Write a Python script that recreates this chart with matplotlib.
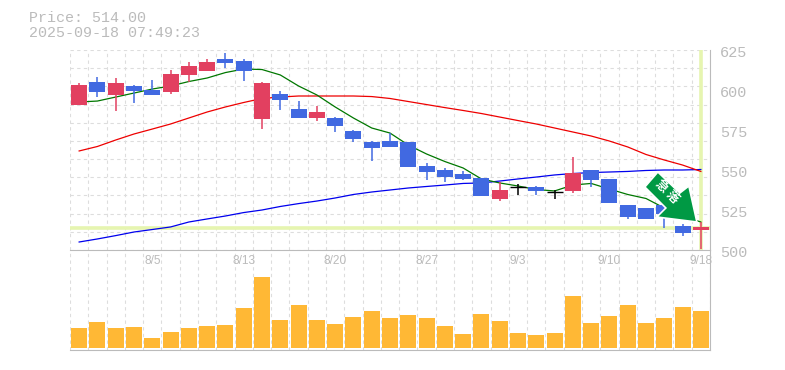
import numpy as np
import matplotlib
matplotlib.use("Agg")
import matplotlib.pyplot as plt
from matplotlib.patches import Polygon
from matplotlib.transforms import Affine2D

price_label = "Price: 514.00"
time_label = "2025-09-18 07:49:23"
last_price = 514.0

opens = [590.6, 605, 596.9, 602.5, 600, 598.75, 609.4, 611.9, 619.4, 618.1, 581.9, 597.5,
         588.1, 582.5, 582.5, 574.4, 567.5, 568.1, 567.5, 552.5, 550, 547.5, 545, 531.9,
         539.2, 539.4, 536.25, 536.9, 550, 544.4, 528.1, 526.25, 528, 515, 512.5]
closes = [603.1, 598.75, 604.4, 599.4, 596.9, 610, 615, 617.5, 616.9, 611.9, 604.4, 593.75,
          582.5, 586.25, 577.5, 569.4, 563.75, 564.4, 551.9, 548.75, 545.6, 544.4, 533.75, 537.5,
          539.2, 536.9, 536.25, 548.1, 543.75, 529.4, 520.6, 519.4, 522.5, 510.6, 514.4]
highs = [604.4, 608.1, 607.5, 603.1, 606.25, 612.5, 617.5, 619.4, 623.1, 619.4, 605, 599.4,
         593.1, 590, 583.1, 575, 568.1, 573.1, 567.5, 554.4, 551.25, 549.4, 545, 542.5,
         541.25, 540, 537.5, 558.1, 550, 544.4, 528.1, 526.25, 528, 516.25, 517.5]
lows = [590.6, 595.6, 586.9, 591.9, 596.9, 597.5, 605, 611.9, 613.75, 605.6, 575.6, 587.5,
        582.5, 580.6, 573.75, 567.5, 555.6, 564.4, 551.9, 543.75, 542.5, 543.75, 533.75, 530.6,
        534.4, 534.4, 531.9, 535.6, 539.4, 529.4, 519.4, 519.4, 513.75, 508.75, 500.6]

ma_short = [592.5, 593.1, 595.6, 598.1, 600.6, 602.5, 605.3, 607.5, 610.9, 613.1, 612.8, 609.4,
            602.5, 596.9, 589.4, 582.5, 576.25, 573.1, 565.6, 560, 555.3, 551.25, 544.4, 541.9,
            540, 537.8, 536.9, 540.6, 541.6, 538.1, 534.7, 532.2, 526.25, 521.25, 517.5]
ma_mid = [561.9, 564.7, 568.75, 572.5, 575.6, 578.75, 582.5, 586.25, 589.4, 592.2, 594.7, 595.6,
          596.25, 596.25, 596.25, 596.25, 595.9, 594.7, 592.8, 590.9, 589, 587.2, 585.3, 583.1,
          580.9, 578.75, 576.25, 573.75, 571.25, 568.1, 564.4, 559.7, 556.25, 553.1, 549.1]
ma_long = [505, 506.9, 509, 511.25, 512.8, 514.4, 517.5, 519.4, 521.25, 523.4, 525, 527.2,
           529, 530.6, 532.5, 534.7, 536.25, 537.5, 538.75, 539.7, 540.6, 541.6, 541.9, 543.1,
           544.4, 545.6, 546.9, 547.8, 548.4, 548.75, 549.1, 549.7, 550, 550, 550.3]

volumes = [20, 26, 20, 21, 10, 16, 20, 22, 23, 40, 71, 28, 43, 28, 24, 31, 37, 30,
           33, 30, 22, 14, 34, 27, 15, 13, 15, 52, 25, 32, 43, 25, 30, 41, 37]

date_labels = ["8/5", "8/13", "8/20", "8/27", "9/3", "9/10", "9/18"]
date_index = [4, 9, 14, 19, 24, 29, 34]
price_ticks = [500, 525, 550, 575, 600, 625]

RED = "#e24060"
BLUE = "#4169e1"
LIME = "#e6f5b0"
GREY = "#bbbbbb"
DPI = 100

fig = plt.figure(figsize=(7.85, 3.7), dpi=DPI)
ax = fig.add_axes([70 / 785, 1 - 250 / 370, 640 / 785, 200 / 370])
vol = fig.add_axes([70 / 785, 1 - 350 / 370, 640 / 785, 100 / 370])
# date labels hang below the price panel, keep them over the volume panel
ax.set_zorder(2)
vol.set_zorder(1)

n = len(closes)
x = np.arange(n) + 0.5

for a in (ax, vol):
    a.set_xlim(0, n)
    a.set_xticks(np.arange(n + 1))
    a.tick_params(length=0, labelbottom=False, labelleft=False)
    a.grid(axis="x", color="#dddddd", lw=0.8, ls=(0, (3, 3)))
    a.set_axisbelow(True)
    for s in a.spines.values():
        s.set_visible(False)
    a.spines["bottom"].set_visible(True)
    a.spines["bottom"].set_color(GREY)
    a.spines["right"].set_visible(True)
    a.spines["right"].set_color(GREY)

ax.set_ylim(500, 625)
ax.set_yticks(np.linspace(500, 625, 12))
ax.grid(axis="y", color="#dddddd", lw=0.8, ls=(0, (3, 3)))

ax.axhline(last_price, color=LIME, lw=2.6, zorder=1.5)
ax.axvline(x[-1], color=LIME, lw=2.6, zorder=1.5)

ax.plot(x, ma_long, color="#0000ee", lw=0.9, zorder=2)
ax.plot(x, ma_mid, color="#ee0000", lw=0.9, zorder=2)
ax.plot(x, ma_short, color="#007700", lw=0.9, zorder=2)

for i in range(n):
    if opens[i] == closes[i]:
        c = "black"
    elif closes[i] > opens[i]:
        c = RED
    else:
        c = BLUE
    ax.vlines(x[i], lows[i], highs[i], color=c, lw=1.1, zorder=3)
    if opens[i] == closes[i]:
        ax.hlines(opens[i], x[i] - 0.44, x[i] + 0.44, color=c, lw=1.0, zorder=3)
    else:
        ax.bar(x[i], abs(closes[i] - opens[i]), bottom=min(opens[i], closes[i]),
               width=0.875, color=c, lw=0, zorder=3)

vol.set_ylim(-2, 98)
vol.bar(x, volumes, width=0.875, color="#ffb835", lw=0, zorder=3)

# price labels on the right, dates under the candles
for p in price_ticks:
    ax.annotate(str(p), (1, p), xycoords=ax.get_yaxis_transform(), xytext=(7, -2),
                textcoords="offset points", color=GREY, family="Liberation Mono",
                fontsize=11, va="center", ha="left", annotation_clip=False)
for i, d in zip(date_index, date_labels):
    ax.annotate(d, (x[i], 0), xycoords=ax.get_xaxis_transform(), xytext=(0, -8),
                textcoords="offset points", color=GREY, family="Liberation Sans",
                fontsize=8.6, va="center", ha="center", annotation_clip=False)

fig.text(29 / 785, 1 - 18 / 370, price_label, color=GREY, family="Liberation Mono",
         fontsize=10.8, va="center", ha="left")
fig.text(29 / 785, 1 - 33 / 370, time_label, color=GREY, family="Liberation Mono",
         fontsize=10.8, va="center", ha="left")

# signal arrow, placed in pixels from the top of the last candle
fig.canvas.draw()
ax_x, ax_y = ax.transData.transform((x[-1], highs[-1]))
shape = np.array([[-56, 35], [-43, 50], [-21, 29], [-12, 36], [-4, 0], [-44, 5], [-35, 14]], float)
place = Affine2D().translate(ax_x, ax_y)
ax.add_patch(Polygon(shape, closed=True, transform=place, facecolor="#009944",
                     edgecolor="white", lw=1.2, zorder=5, clip_on=False))
ax.text(-34, 30, "急 落", transform=place, color="white", rotation=-45, rotation_mode="anchor",
        family=["Noto Sans CJK JP", "DejaVu Sans"], weight="bold", fontsize=9,
        va="center", ha="center", zorder=6, clip_on=False)

fig.savefig("out.png", dpi=DPI)
